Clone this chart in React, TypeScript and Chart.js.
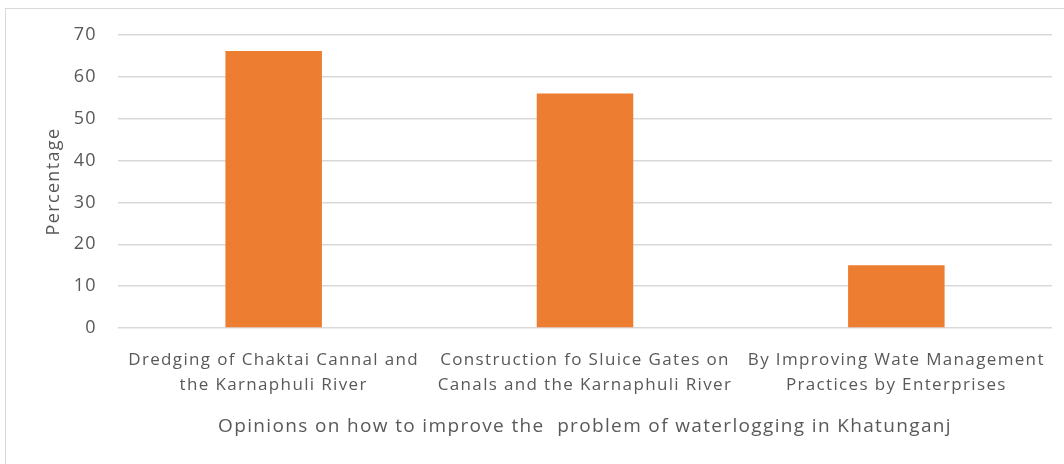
import React, { useEffect, useRef } from "react";
import { Chart, registerables } from "chart.js";

Chart.register(...registerables);

const categories: string[][] = [
  ["Dredging of Chaktai Cannal and", "the Karnaphuli River"],
  ["Construction fo Sluice Gates on", "Canals and the Karnaphuli River"],
  ["By Improving Wate Management", "Practices by Enterprises"],
];
const percentages: number[] = [66.2, 56, 15];
const yTicks: number[] = [0, 10, 20, 30, 40, 50, 60, 70];
const xTitle = "Opinions on how to improve the  problem of waterlogging in Khatunganj";
const yTitle = "Percentage";

const FONT = "'Open Sans', sans-serif";
const TEXT = "#595959";

const spacingPlugin = {
  id: "letterSpacing",
  beforeInit(chart: any) {
    chart.ctx.letterSpacing = "1.35px";
  },
  beforeDraw(chart: any) {
    chart.ctx.letterSpacing = "1.35px";
  },
};

export default function App() {
  const ref = useRef<HTMLCanvasElement | null>(null);
  useEffect(() => {
    if (!ref.current) return;
    const chart = new Chart(ref.current, {
      type: "bar",
      data: {
        labels: categories,
        datasets: [
          {
            data: percentages,
            backgroundColor: "#ED7D31",
            borderWidth: 0,
            barPercentage: 0.31,
            categoryPercentage: 1,
          },
        ],
      },
      plugins: [spacingPlugin],
      options: {
        animation: false,
        responsive: false,
        maintainAspectRatio: false,
        layout: { padding: { top: 35, right: 12, bottom: 0, left: 0 } },
        plugins: { legend: { display: false }, tooltip: { enabled: false } },
        scales: {
          x: {
            grid: { display: false },
            border: { display: false },
            ticks: {
              color: TEXT,
              font: { family: FONT, size: 17, lineHeight: 1.5 },
              padding: 11,
              maxRotation: 0,
              autoSkip: false,
            },
            title: {
              display: true,
              text: xTitle,
              color: TEXT,
              font: { family: FONT, size: 19, lineHeight: 1.2 },
              padding: { top: 0, bottom: 26 },
            },
            afterFit: (s: any) => {
              s.height = 136;
            },
          },
          y: {
            min: 0,
            max: 70,
            afterBuildTicks: (s: any) => {
              s.ticks = yTicks.map((v) => ({ value: v }));
            },
            grid: { color: "#d9d9d9", lineWidth: 1.5, drawTicks: false },
            border: { display: false },
            ticks: {
              color: TEXT,
              font: { family: FONT, size: 18 },
              padding: 21,
            },
            title: {
              display: true,
              text: yTitle,
              color: TEXT,
              font: { family: FONT, size: 18, lineHeight: 1.2 },
              padding: { top: 43, bottom: 0 },
            },
            afterFit: (s: any) => {
              s.width = 118;
            },
          },
        },
      },
    });
    return () => chart.destroy();
  }, []);
  return (
    <div style={{ position: "absolute", left: 0, top: 0, width: 1064, height: 464, overflow: "hidden", background: "#fff" }}>
      <div
        style={{
          position: "absolute",
          left: 5,
          top: 8,
          width: 1100,
          height: 500,
          borderTop: "1.5px solid #d9d9d9",
          borderLeft: "1.5px solid #d9d9d9",
        }}
      />
      <canvas ref={ref} width={1064} height={464} style={{ position: "absolute", left: 0, top: 0 }} />
    </div>
  );
}
